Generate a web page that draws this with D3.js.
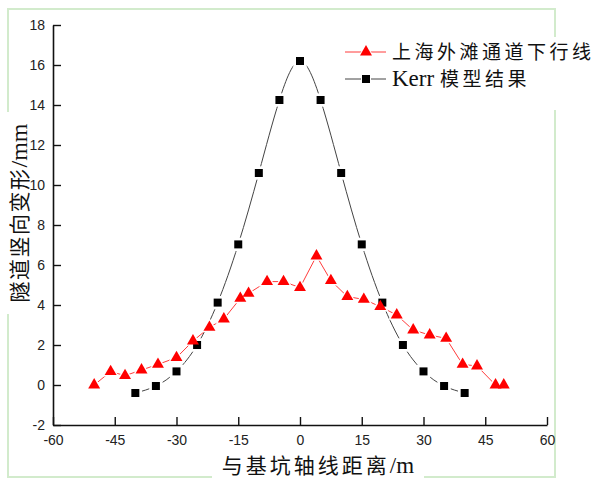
<!DOCTYPE html>
<html>
<head>
<meta charset="utf-8">
<script src="https://cdn.jsdelivr.net/npm/d3@7"></script>
<style>
  body { margin: 0; background: #fff; }
  svg { display: block; }
  .tick text { font-family: "Liberation Sans", Arial, sans-serif; font-size: 14px; fill: #222; }
  .cjk { font-family: "Noto Sans CJK SC", sans-serif; fill: #111; }
  .latin { font-family: "Liberation Serif", "Times New Roman", serif; letter-spacing: 0; }
</style>
</head>
<body>
<div id="chart"></div>
<script>
// data
const tunnelX = [-50, -46, -42.5, -38.5, -34.5, -30, -26, -22, -18.5, -14.5, -12.5, -8, -4, 0,
  4, 7.5, 11.5, 15.5, 19.5, 23.5, 27.5, 31.5, 35.5, 39.5, 43, 47.5, 49.5];
const tunnelY = [0, 0.67, 0.47, 0.75, 1.03, 1.37, 2.2, 2.88, 3.3, 4.33, 4.58, 5.17, 5.17, 4.87,
  6.45, 5.22, 4.42, 4.28, 3.92, 3.5, 2.75, 2.5, 2.33, 1.03, 0.95, 0, 0];
const kerrX = [-40, -35, -30, -25, -20, -15, -10, -5, 0, 5, 10, 15, 20, 25, 30, 35, 40];
const kerrY = [-0.4, -0.05, 0.68, 2.0, 4.12, 7.03, 10.6, 14.25, 16.2, 14.25, 10.6, 7.03, 4.12, 2.0, 0.68, -0.05, -0.4];
const xTicks = [-60, -45, -30, -15, 0, 15, 30, 45, 60];
const yTicks = [-2, 0, 2, 4, 6, 8, 10, 12, 14, 16, 18];

const width = 607;
const height = 480;

const svg = d3.select('#chart')
  .append('svg')
  .attr('width', width)
  .attr('height', height);

// light green frame around the figure
svg.append('rect')
  .attr('x', 8).attr('y', 9)
  .attr('width', 547).attr('height', 468)
  .attr('fill', 'none')
  .attr('stroke', '#d2ebcc')
  .attr('stroke-width', 2);

const x = d3.scaleLinear().domain([-60, 60]).range([53, 547]);
const y = d3.scaleLinear().domain([-2, 18]).range([425, 25]);

// axis titles on white boxes that hide the frame
svg.append('rect').attr('x', 3).attr('y', 112).attr('width', 26).attr('height', 202).attr('fill', '#fff');
const yTitle = svg.append('text')
  .attr('class', 'cjk')
  .attr('transform', 'translate(27,213) rotate(-90)')
  .attr('text-anchor', 'middle')
  .style('font-size', '21px')
  .style('letter-spacing', '1.5px');
yTitle.append('tspan').text('隧道竖向变形');
yTitle.append('tspan').attr('class', 'latin').style('font-size', '24px').text('/mm');

svg.append('rect').attr('x', 212).attr('y', 456).attr('width', 212).attr('height', 24).attr('fill', '#fff');
const xTitle = svg.append('text')
  .attr('class', 'cjk')
  .attr('x', 318).attr('y', 473)
  .attr('text-anchor', 'middle')
  .style('font-size', '21px')
  .style('letter-spacing', '3px');
xTitle.append('tspan').text('与基坑轴线距离');
xTitle.append('tspan').attr('class', 'latin').style('font-size', '23px').text('/m');

// axes, ticks pointing inward, plain hyphen minus
const xAxis = svg.append('g')
  .attr('transform', `translate(0,${y(-2)})`)
  .call(d3.axisBottom(x).tickValues(xTicks).tickFormat(d => String(d))
    .tickSizeInner(-8).tickSizeOuter(0).tickPadding(10));
const yAxis = svg.append('g')
  .attr('transform', `translate(${x(-60)},0)`)
  .call(d3.axisLeft(y).tickValues(yTicks).tickFormat(d => String(d))
    .tickSizeInner(-8).tickSizeOuter(0).tickPadding(8));
[xAxis, yAxis].forEach(a => {
  a.select('.domain').attr('stroke', '#111').attr('stroke-width', 1.6);
  a.selectAll('.tick line').attr('stroke', '#111').attr('stroke-width', 1.4);
});

const tunnel = tunnelX.map((d, i) => [d, tunnelY[i]]);
const kerr = kerrX.map((d, i) => [d, kerrY[i]]);

const tri = d3.symbol().type(d3.symbolTriangle);
const sq = d3.symbol().type(d3.symbolSquare);

// Kerr curve (smooth)
svg.append('path')
  .datum(kerr)
  .attr('d', d3.line().x(d => x(d[0])).y(d => y(d[1])).curve(d3.curveNatural))
  .attr('fill', 'none')
  .attr('stroke', '#444')
  .attr('stroke-width', 1);

// measured line (straight segments)
svg.append('path')
  .datum(tunnel)
  .attr('d', d3.line().x(d => x(d[0])).y(d => y(d[1])))
  .attr('fill', 'none')
  .attr('stroke', '#ff3b3b')
  .attr('stroke-width', 1);

// white halos leave small gaps in the lines around markers
svg.append('g').selectAll('path')
  .data(kerr).enter().append('path')
  .attr('transform', d => `translate(${x(d[0])},${y(d[1])})`)
  .attr('d', sq.size(180)())
  .attr('fill', '#fff');
svg.append('g').selectAll('path')
  .data(tunnel).enter().append('path')
  .attr('transform', d => `translate(${x(d[0])},${y(d[1])})`)
  .attr('d', tri.size(120)())
  .attr('fill', '#fff');

svg.append('g').selectAll('path')
  .data(kerr).enter().append('path')
  .attr('transform', d => `translate(${x(d[0])},${y(d[1])})`)
  .attr('d', sq.size(64)())
  .attr('fill', '#000');
svg.append('g').selectAll('path')
  .data(tunnel).enter().append('path')
  .attr('transform', d => `translate(${x(d[0])},${y(d[1])})`)
  .attr('d', tri.size(62)())
  .attr('fill', '#ff0000');

// legend
svg.append('rect').attr('x', 340).attr('y', 37).attr('width', 267).attr('height', 73).attr('fill', '#fff');
const legend = svg.append('g');
const legendRows = [
  { parts: [['上海外滩通道下行线', 'cjk']], color: '#ff3b3b', mark: '#ff0000', shape: tri.size(62)(), yy: 52 },
  { parts: [['Kerr ', 'latin'], ['模型结果', 'cjk']], color: '#444', mark: '#000', shape: sq.size(64)(), yy: 79 },
];
legendRows.forEach(r => {
  legend.append('line')
    .attr('x1', 345).attr('x2', 386).attr('y1', r.yy).attr('y2', r.yy)
    .attr('stroke', r.color).attr('stroke-width', 1);
  legend.append('path')
    .attr('transform', `translate(366,${r.yy})`)
    .attr('d', r.shape)
    .attr('fill', r.mark)
    .attr('stroke', '#fff').attr('stroke-width', 2).attr('paint-order', 'stroke');
  const t = legend.append('text')
    .attr('x', 392).attr('y', r.yy + 7);
  r.parts.forEach(p => {
    const s = t.append('tspan').attr('class', p[1]);
    if (p[1] === 'cjk') s.style('font-size', '19px').style('letter-spacing', '3.5px');
    else s.style('font-size', '23px').style('fill', '#111');
    s.text(p[0]);
  });
});
</script>
</body>
</html>
